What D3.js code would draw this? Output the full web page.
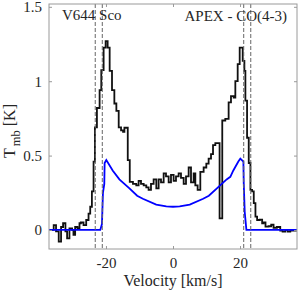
<!DOCTYPE html>
<html><head><meta charset="utf-8">
<script src="https://cdn.jsdelivr.net/npm/d3@7"></script>
<style>body{margin:0;background:#fff}svg{display:block}text{font-family:"Liberation Serif","Times New Roman",serif;fill:#262626}</style>
</head><body>
<script>
// Observed spectrum: left edges of channels (km/s) and Tmb (K)
const specV = [-37,-35.6,-34.9,-34.1,-33.4,-32.8,-32.1,-31.6,-30.9,-30.1,-29.7,-29.2,-28.5,-27.9,-27.5,-26.7,-25.9,-25.2,-24.7,-24.2,-23.7,-23.3,-22.7,-21.9,-21.4,-20.7,-20.1,-19.5,-18.9,-18.2,-17.5,-16.9,-16.2,-15.5,-14.9,-14.5,-13.5,-12.9,-11.95,-10.96,-10.26,-9.55,-8.75,-7.97,-7.28,-6.57,-5.78,-4.98,-4.29,-3.58,-2.79,-2.09,-1.3,-0.6,0.19,0.89,1.68,2.38,3.18,3.88,4.67,5.37,6.16,6.66,7.35,8.15,9.14,9.94,10.63,11.34,11.94,12.63,13.9,14.7,15.6,16.6,17.3,18.1,18.6,19.3,19.9,20.8,21.3,21.6,22.1,22.6,23.1,23.6,24.1,24.6,25.1,25.9,26.6,27.0,27.6,28.5,29.3,30.0,31.0,32.0,32.7,33.5,34.2,35.0,36.0,37];
const specT = [0.0,0.033,-0.01,-0.078,0.02,0.045,-0.01,-0.056,0.01,0.0,-0.033,0.02,0.01,0.045,0.05,0.033,0.067,0.11,0.156,0.26,0.46,0.69,0.82,0.94,1.075,1.226,1.27,1.226,1.07,0.94,0.85,0.80,0.69,0.67,0.66,0.687,0.47,0.323,0.31,0.30,0.33,0.31,0.30,0.286,0.27,0.31,0.34,0.28,0.34,0.32,0.38,0.36,0.32,0.37,0.33,0.36,0.38,0.35,0.31,0.36,0.42,0.32,0.38,0.30,0.27,0.39,0.42,0.446,0.48,0.51,0.57,0.584,0.078,0.736,0.747,0.858,0.90,0.89,1.0,1.115,1.226,1.137,1.07,0.87,0.62,0.45,0.27,0.26,0.18,0.09,0.067,0.07,0.045,0.05,0.022,0.025,0.035,0.015,0.02,-0.005,-0.011,0.0,-0.011,-0.005,-0.005,-0.005];
// Model profile (blue)
const modelV = [-37,-21.7,-21.2,-20.9,-20.5,-20.4,-19.9,-18,-16,-13,-10.7,-9,-5,-2,0,2,5,9,10.7,13.1,16,17.1,18,19.5,20.1,21.0,21.1,21.4,21.9,37];
const modelT = [0,0,0.04,0.25,0.31,0.45,0.47,0.40,0.34,0.28,0.23,0.21,0.17,0.158,0.156,0.158,0.17,0.21,0.23,0.28,0.34,0.357,0.40,0.46,0.48,0.46,0.32,0.12,0,0];
// Dashed reference velocities
const dashV = [-23.2,-21.1,21.1,23.2];
const xTicks = [-20,0,20];
const xTickLabels = ["-20","0","20"];
const yTicks = [0,0.5,1,1.5];
const yTickLabels = ["0","0.5","1","1.5"];

const W=300,H=290, L=49,R=297,T=4,B=249;
const svg=d3.select("body").append("svg").attr("width",W).attr("height",H);
const x=d3.scaleLinear().domain([-37,37]).range([L,R]);
const y=d3.scaleLinear().domain([-0.128,1.519]).range([B,T]);

svg.append("clipPath").attr("id","c").append("rect").attr("x",L).attr("y",T).attr("width",R-L).attr("height",B-T);
const g=svg.append("g").attr("clip-path","url(#c)");

const spec=specV.map((v,i)=>[v,specT[i]]);
g.append("path").datum(spec).attr("fill","none").attr("stroke","#111").attr("stroke-width",1.8)
 .attr("d",d3.line().x(d=>x(d[0])).y(d=>y(d[1])).curve(d3.curveStepAfter));
const model=modelV.map((v,i)=>[v,modelT[i]]);
g.append("path").datum(model).attr("fill","none").attr("stroke","#0000ff").attr("stroke-width",1.8)
 .attr("d",d3.line().x(d=>x(d[0])).y(d=>y(d[1])));
g.selectAll("line.d").data(dashV).enter().append("line").attr("x1",d=>x(d)).attr("x2",d=>x(d))
 .attr("y1",T).attr("y2",B).attr("stroke","#666").attr("stroke-width",1).attr("stroke-dasharray","4,2");

// axes box
const ax="#9a9a9a";
svg.append("rect").attr("x",L).attr("y",T).attr("width",R-L).attr("height",B-T).attr("fill","none").attr("stroke",ax).attr("stroke-width",1);
const xb=d3.axisBottom(x).tickValues(xTicks).tickSizeInner(-3).tickSizeOuter(0).tickPadding(8.5).tickFormat((d,i)=>xTickLabels[i]);
const xt=d3.axisTop(x).tickValues(xTicks).tickSizeInner(-3).tickSizeOuter(0).tickFormat("");
const yl=d3.axisLeft(y).tickValues(yTicks).tickSizeInner(-3).tickSizeOuter(0).tickPadding(7).tickFormat((d,i)=>yTickLabels[i]);
const yr=d3.axisRight(y).tickValues(yTicks).tickSizeInner(-3).tickSizeOuter(0).tickFormat("");
[[xb,`translate(0,${B})`],[xt,`translate(0,${T})`],[yl,`translate(${L},0)`],[yr,`translate(${R},0)`]].forEach(([a,t])=>{
  const s=svg.append("g").attr("transform",t).call(a);
  s.select(".domain").remove();
  s.selectAll(".tick line").attr("stroke",ax);
  s.selectAll("text").attr("font-family","Liberation Serif").attr("font-size",15).attr("fill","#262626");
});

svg.append("text").attr("x",(L+R)/2).attr("y",286).attr("text-anchor","middle").attr("font-size",16).text("Velocity [km/s]");
const yt=svg.append("text").attr("transform",`translate(15,131) rotate(-90)`).attr("text-anchor","middle").attr("font-size",16);
yt.append("tspan").text("T");
yt.append("tspan").attr("font-size",12.5).attr("dx",2).attr("dy",5).text("mb");
yt.append("tspan").attr("dy",-5).text(" [K]");

svg.append("text").attr("x",62).attr("y",20).attr("font-size",15).text("V644 Sco");
svg.append("text").attr("x",287).attr("y",21).attr("text-anchor","end").attr("font-size",15).text("APEX - CO(4-3)");
</script>
</body></html>
